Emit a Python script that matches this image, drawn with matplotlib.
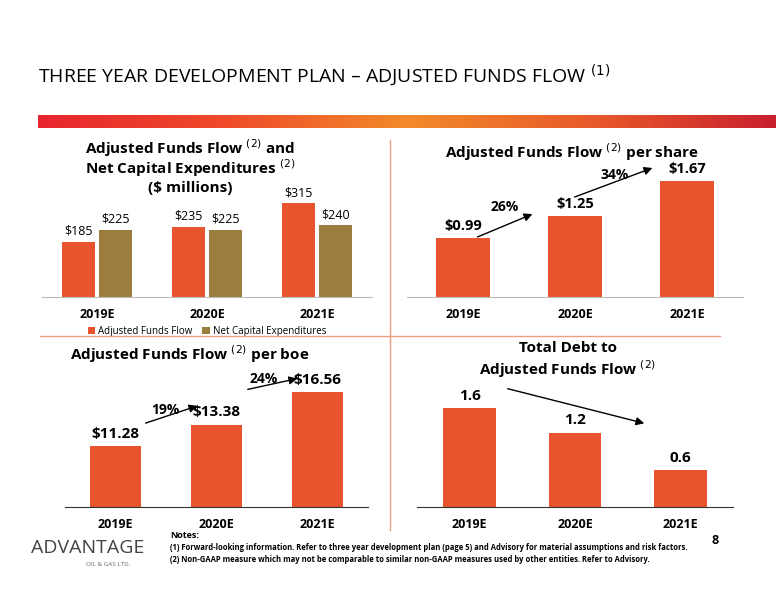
import numpy as np
import matplotlib
matplotlib.use("Agg")
import matplotlib.pyplot as plt
from matplotlib.colors import LinearSegmentedColormap

W, H = 776, 600
ORANGE = "#E8542E"
OLIVE = "#9B7D3E"

years = ["2019E", "2020E", "2021E"]
aff = [185, 235, 315]
capex = [225, 225, 240]
aff_share = [0.99, 1.25, 1.67]
aff_boe = [11.28, 13.38, 16.56]
debt_aff = [1.6, 1.2, 0.6]

plt.rcParams["font.family"] = ["Open Sans", "DejaVu Sans"]
fig = plt.figure(figsize=(W / 100, H / 100), dpi=100)


def px_axes(x0, y0, x1, y1):
    # pixel box (top-left origin) -> figure axes
    return fig.add_axes([x0 / W, 1 - y1 / H, (x1 - x0) / W, (y1 - y0) / H])


def ftext(x, y, s, **kw):
    fig.text(x / W, 1 - y / H, s, **kw)


def arrow(x0, y0, x1, y1):
    fig.add_artist(matplotlib.patches.FancyArrowPatch(
        (x0 / W, 1 - y0 / H), (x1 / W, 1 - y1 / H), transform=fig.transFigure,
        arrowstyle="-|>", mutation_scale=12, color="black", lw=1))


def style(ax, ymin, ymax, lc="#bbbbbb"):
    ax.set_ylim(ymin, ymax)
    ax.set_xlim(-0.5, 2.5)
    for s in ("top", "right", "left"):
        ax.spines[s].set_visible(False)
    ax.spines["bottom"].set_color(lc)
    ax.set_yticks([])
    ax.set_xticks(range(3))
    ax.set_xticklabels(years, fontsize=9, fontweight="bold")
    ax.tick_params(axis="x", length=0, pad=8)
    ax.patch.set_alpha(0)


# title + gradient band
ftext(38, 75, "THREE YEAR DEVELOPMENT PLAN – ADJUSTED FUNDS FLOW $^{(1)}$", fontsize=14, va="center")
band = fig.add_axes([38 / W, 1 - 128 / H, (776 - 38) / W, 13 / H])
cmap = LinearSegmentedColormap.from_list("g", ["#E8262E", "#EE4A2A", "#F28A2A", "#E85A2A", "#C8202E"])
band.imshow(np.linspace(0, 1, 256)[None, :], aspect="auto", cmap=cmap)
band.axis("off")

# separators
fig.add_artist(matplotlib.lines.Line2D([40 / W, 720 / W], [1 - 336 / H] * 2, color="#F0A080", lw=1))
fig.add_artist(matplotlib.lines.Line2D([390 / W] * 2, [1 - 140 / H, 1 - 530 / H], color="#F0A080", lw=1))

# panel 1
ax = px_axes(42, 140, 372, 297)
x = np.arange(3)
b1 = ax.bar(x - 0.17, aff, 0.3, color=ORANGE, label="Adjusted Funds Flow")
b2 = ax.bar(x + 0.17, capex, 0.3, color=OLIVE, label="Net Capital Expenditures")
style(ax, 0, 526)
for bars in (b1, b2):
    for r in bars:
        ax.annotate(f"${r.get_height():.0f}", (r.get_x() + r.get_width() / 2, r.get_height()),
                    xytext=(0, 5), textcoords="offset points", ha="center", fontsize=9)
ax.legend(loc="upper center", bbox_to_anchor=(0.5, -0.13), ncol=2, frameon=False,
          fontsize=7, handlelength=0.8, handletextpad=0.3, columnspacing=1)
ftext(190, 148, "Adjusted Funds Flow $^{(2)}$ and", ha="center", fontsize=11, fontweight="bold", va="center")
ftext(190, 168, "Net Capital Expenditures $^{(2)}$", ha="center", fontsize=11, fontweight="bold", va="center")
ftext(190, 188, "($ millions)", ha="center", fontsize=11, fontweight="bold", va="center")

# panel 2
ax = px_axes(407, 140, 743, 297)
bars = ax.bar(x, aff_share, 0.48, color=ORANGE)
style(ax, 0.29, 2.16)
for r in bars:
    ax.annotate(f"${r.get_height():.2f}", (r.get_x() + r.get_width() / 2, r.get_height()),
                xytext=(0, 6), textcoords="offset points", ha="center", fontsize=10.5, fontweight="bold")
ftext(572, 152, "Adjusted Funds Flow $^{(2)}$ per share", ha="center", fontsize=11, fontweight="bold", va="center")
arrow(475, 238, 535, 213)
arrow(572, 198, 655, 167)
ftext(505, 207, "26%", ha="center", fontsize=10, fontweight="bold", va="center")
ftext(615, 175, "34%", ha="center", fontsize=10, fontweight="bold", va="center")

# panel 3
ax = px_axes(65, 350, 368, 507)
bars = ax.bar(x, aff_boe, 0.5, color=ORANGE)
style(ax, 5.3, 20.7, "#333333")
for r in bars:
    ax.annotate(f"${r.get_height():.2f}", (r.get_x() + r.get_width() / 2, r.get_height()),
                xytext=(0, 6), textcoords="offset points", ha="center", fontsize=11, fontweight="bold")
ftext(190, 354, "Adjusted Funds Flow $^{(2)}$ per boe", ha="center", fontsize=11, fontweight="bold", va="center")
arrow(143, 424, 200, 405)
arrow(245, 390, 300, 378)
ftext(165, 410, "19%", ha="center", fontsize=10, fontweight="bold", va="center")
ftext(264, 379, "24%", ha="center", fontsize=10, fontweight="bold", va="center")

# panel 4
ax = px_axes(417, 350, 733, 507)
bars = ax.bar(x, debt_aff, 0.5, color=ORANGE)
style(ax, 0, 2.54, "#333333")
for r in bars:
    ax.annotate(f"{r.get_height():.1f}", (r.get_x() + r.get_width() / 2, r.get_height()),
                xytext=(0, 6), textcoords="offset points", ha="center", fontsize=11, fontweight="bold")
ftext(568, 348, "Total Debt to", ha="center", fontsize=11, fontweight="bold", va="center")
ftext(568, 369, "Adjusted Funds Flow $^{(2)}$", ha="center", fontsize=11, fontweight="bold", va="center")
arrow(505, 388, 647, 424)

# footer
ftext(88, 548, "ADVANTAGE", ha="center", fontsize=14, color="#444444", va="center")
ftext(130, 565, "OIL & GAS LTD.", ha="right", fontsize=4.5, color="#666666", va="center")
ftext(170, 536, "Notes:", fontsize=6.5, va="center", fontweight="bold")
ftext(170, 548, "(1) Forward-looking information. Refer to three year development plan (page 5) and Advisory for material assumptions and risk factors.",
      fontsize=5.5, va="center", fontweight="bold")
ftext(170, 560, "(2) Non-GAAP measure which may not be comparable to similar non-GAAP measures used by other entities. Refer to Advisory.",
      fontsize=5.5, va="center", fontweight="bold")
ftext(712, 540, "8", fontsize=9, fontweight="bold", va="center")

fig.savefig("out.png", dpi=100)
